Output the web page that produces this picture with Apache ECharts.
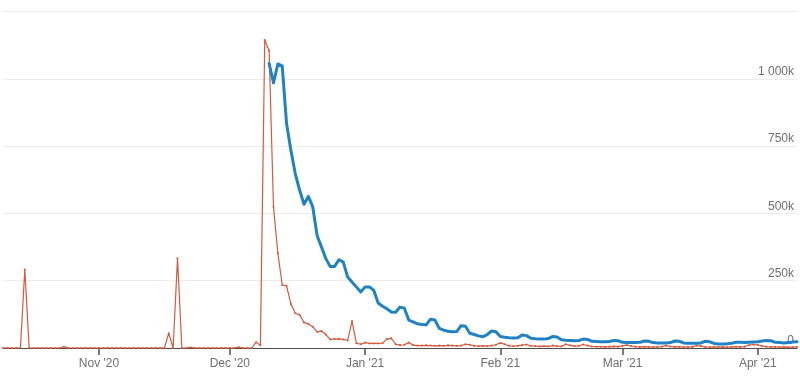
<!DOCTYPE html>
<html>
<head>
<meta charset="utf-8">
<script src="https://cdn.jsdelivr.net/npm/echarts@6/dist/echarts.min.js"></script>
<style>
html,body{margin:0;padding:0;background:#fff;}
#chart{width:800px;height:382px;}
</style>
</head>
<body>
<div id="chart"></div>
<script>
// Daily categories run from startDate to endDate (inclusive)
const startDate = '2020-10-10';
const endDate = '2021-04-10';

// Red series: daily values (thousands), Oct 10 2020 -> Apr 10 2021
const redOct = [0,0,0,0,0,292,0,0,0,0,0,0,0,0,5,0,0,0,0,0,0,0];
const redNov = [0,0,0,0,0,0,0,0,0,0,0,0,0,0,0,0,55,0,333,0,0,2,0,0,0,0,0,0,0,0];
const redDec = [0,0,3,0,0,0,21,10,1144,1104,525,352,234,231,163,129,123,95,89,79,60,63,50,32,33,34,32,28,100,18,14];
const redJan = [20,17,17,17,18,33,36,14,11,12,20,11,9,9,10,9,8,9,8,10,9,8,9,14,12,8,7,8,7,9,12];
const redFeb = [19,14,8,7,8,11,13,8,7,6,7,6,9,7,6,14,10,7,8,13,9,6,5,5,4,5,6,5];
const redMar = [8,11,7,5,4,5,4,3,4,5,9,6,4,5,3,4,4,9,7,4,3,4,3,4,3,4,5,4,5,11,13];
const redApr = [12,7,5,4,4,3,4,3,3,4];

// Blue series: daily values (thousands), Dec 10 2020 -> Apr 10 2021
const blueStart = '2020-12-10';
const blueDec = [1057,985,1055,1048,833,734,647,586,534,563,524,418,375,332,303,303,328,319,264,245,227,208];
const blueJan = [227,227,214,167,155,146,134,133,152,148,104,97,90,87,86,107,104,73,66,62,60,61,83,81,55,50,45,42,50,63,60];
const blueFeb = [43,40,38,37,38,48,46,36,34,33,33,35,43,41,31,29,28,27,28,33,32,25,24,23,23,24,28,27];
const blueMar = [21,20,20,20,21,26,25,20,19,19,19,20,26,25,19,18,18,18,19,25,23,17,15,15,16,18,21,21,20,21,22];
const blueApr = [23,26,28,27,21,20,19,20,22,23];

// Axis ticks
const monthTicks = ['2020-11-01','2020-12-01','2021-01-01','2021-02-01','2021-03-01','2021-04-01'];
const monthLabels = ["Nov '20","Dec '20","Jan '21","Feb '21","Mar '21","Apr '21"];
const yTicks = [0,250,500,750,1000,1250];

function fmtDate(d){
  const m = String(d.getUTCMonth()+1).padStart(2,'0');
  const dd = String(d.getUTCDate()).padStart(2,'0');
  return d.getUTCFullYear()+'-'+m+'-'+dd;
}
function dayList(from, to){
  const out = [];
  let d = new Date(from+'T00:00:00Z');
  const e = new Date(to+'T00:00:00Z');
  while (d <= e){ out.push(fmtDate(d)); d = new Date(d.getTime()+86400000); }
  return out;
}
const categories = dayList(startDate, endDate);
const redValues = [].concat(redOct, redNov, redDec, redJan, redFeb, redMar, redApr);
const blueValues = [].concat(blueDec, blueJan, blueFeb, blueMar, blueApr);
const blueDates = dayList(blueStart, endDate);
const redData = categories.map((c,i)=>[c, redValues[i]]);
const blueData = blueDates.map((c,i)=>[c, blueValues[i]]);

function fmtK(v){
  if (v === yTicks[yTicks.length-1]) return '';
  const s = String(v).replace(/\B(?=(\d{3})+(?!\d))/g, ' ');
  return v === 0 ? '0' : s + 'k';
}

const chart = echarts.init(document.getElementById('chart'));
chart.setOption({
  animation: false,
  textStyle: { fontFamily: 'Liberation Sans, Arial, sans-serif' },
  grid: { left: 3, right: 3, top: 11.5, bottom: 34, containLabel: false },
  xAxis: {
    type: 'category',
    data: categories,
    boundaryGap: false,
    axisLine: { show: true, lineStyle: { color: '#4d4d4d', width: 1.2 } },
    axisTick: {
      show: true, length: 7, alignWithLabel: true,
      lineStyle: { color: '#4d4d4d', width: 1.5 },
      interval: (i, v) => monthTicks.indexOf(v) >= 0
    },
    axisLabel: {
      color: '#6e6e6e', fontSize: 12, margin: 10,
      interval: (i, v) => monthTicks.indexOf(v) >= 0,
      formatter: v => { const k = monthTicks.indexOf(v); return k >= 0 ? monthLabels[k] : ''; }
    },
    splitLine: { show: false }
  },
  yAxis: {
    type: 'value',
    position: 'right',
    min: 0, max: 1250, interval: 250,
    axisLine: { show: false },
    axisTick: { show: false },
    axisLabel: {
      inside: true, color: '#6e6e6e', fontSize: 12, margin: 3,
      verticalAlign: 'bottom', lineHeight: 14,
      formatter: fmtK
    },
    splitLine: { lineStyle: { color: '#efecea', width: 1 } }
  },
  series: [
    {
      type: 'line', data: redData,
      showSymbol: true, symbol: 'circle', symbolSize: 2,
      itemStyle: { color: '#d35a3c' },
      lineStyle: { color: '#d35a3c', width: 1.2 },
      z: 3
    },
    {
      type: 'line', data: blueData,
      showSymbol: false,
      lineStyle: { color: '#1f82c5', width: 3, cap: 'round', join: 'round' },
      z: 4
    }
  ]
});
</script>
</body>
</html>
